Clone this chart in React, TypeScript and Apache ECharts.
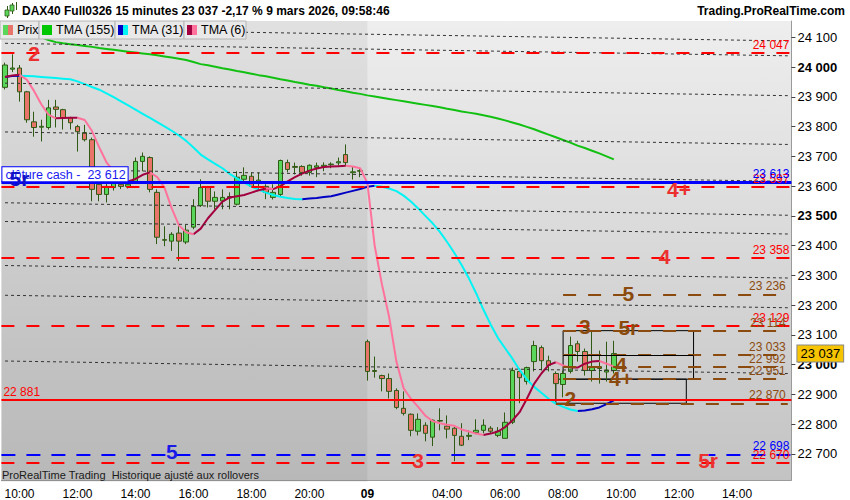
import { useEffect, useRef } from 'react'
import * as echarts from 'echarts'

const FONT = "'Liberation Sans', Arial, sans-serif"

// 15-minute slots: Friday session, then Monday session up to the right edge
function slots(day: string, from: string, to: string): string[] {
  const toMin = (t: string) => Number(t.slice(0, 2)) * 60 + Number(t.slice(3))
  const out: string[] = []
  for (let m = toMin(from); m <= toMin(to); m += 15) {
    out.push(`${day} ${String(Math.floor(m / 60)).padStart(2, '0')}:${String(m % 60).padStart(2, '0')}`)
  }
  return out
}
const DAY2_START = '09/03 01:15'
const categories = [...slots('06/03', '09:30', '21:45'), ...slots('09/03', '01:15', '15:45')]
const LAST_SLOT = categories.length - 1

// [open, high, low, close]
const day1Bars: number[][] = [
  [23932, 24015, 23925, 24007], [23993, 24043, 23983, 23997], [23997, 24007, 23884, 23917],
  [23917, 23920, 23813, 23823], [23816, 23850, 23766, 23797], [23798, 23823, 23750, 23801],
  [23797, 23890, 23790, 23863], [23866, 23890, 23797, 23858], [23857, 23860, 23790, 23830],
  [23830, 23833, 23790, 23813], [23800, 23806, 23716, 23783], [23780, 23806, 23750, 23756],
  [23756, 23763, 23549, 23589], [23606, 23612, 23549, 23572], [23572, 23630, 23545, 23599],
  [23595, 23660, 23585, 23612], [23606, 23620, 23590, 23599], [23599, 23615, 23592, 23606],
  [23612, 23696, 23608, 23683], [23683, 23713, 23650, 23700], [23696, 23700, 23579, 23589],
  [23579, 23589, 23405, 23428], [23418, 23465, 23398, 23420], [23415, 23445, 23382, 23438],
  [23442, 23465, 23348, 23415], [23412, 23470, 23405, 23452], [23462, 23556, 23455, 23532],
  [23535, 23623, 23530, 23595], [23595, 23599, 23528, 23549], [23549, 23582, 23522, 23562],
  [23550, 23589, 23522, 23562], [23560, 23579, 23522, 23565], [23539, 23650, 23535, 23630],
  [23623, 23663, 23612, 23636], [23633, 23646, 23596, 23599], [23612, 23646, 23589, 23620],
  [23599, 23606, 23556, 23579], [23562, 23606, 23555, 23579], [23572, 23689, 23566, 23686],
  [23679, 23689, 23646, 23656], [23666, 23679, 23639, 23663], [23666, 23670, 23635, 23646],
  [23646, 23673, 23635, 23670], [23663, 23679, 23630, 23668], [23666, 23680, 23650, 23670],
  [23672, 23680, 23660, 23674], [23678, 23696, 23670, 23682], [23706, 23740, 23666, 23679],
  [23645, 23666, 23622, 23648], [23650, 23660, 23630, 23652]
]
const day2Bars: number[][] = [
  [23077, 23084, 22946, 22977], [22980, 23027, 22956, 22977], [22963, 22966, 22910, 22953],
  [22953, 22970, 22886, 22910], [22913, 22920, 22850, 22856], [22853, 22910, 22829, 22836],
  [22833, 22836, 22759, 22779], [22776, 22836, 22762, 22816], [22796, 22806, 22742, 22769],
  [22756, 22816, 22726, 22813], [22810, 22853, 22779, 22812], [22793, 22829, 22752, 22783],
  [22786, 22790, 22675, 22762], [22759, 22803, 22726, 22729], [22759, 22779, 22746, 22762],
  [22772, 22816, 22766, 22779], [22779, 22816, 22769, 22796], [22786, 22793, 22769, 22776],
  [22762, 22790, 22756, 22776], [22752, 22839, 22752, 22806], [22806, 22990, 22800, 22980],
  [22977, 22987, 22870, 22956], [22943, 22993, 22933, 22990], [23010, 23080, 22977, 23064],
  [23057, 23064, 22980, 23013], [23013, 23030, 22977, 22997], [22970, 22977, 22886, 22936],
  [22933, 22980, 22890, 22970], [22977, 23094, 22970, 23064], [23070, 23080, 23010, 23044],
  [23044, 23054, 22963, 22980], [22980, 23110, 22943, 22990], [22993, 23047, 22936, 22987],
  [22975, 23077, 22943, 22982], [22980, 23080, 22970, 23037]
]

const tma155 = [
  24140, 24132, 24124, 24116, 24108, 24100, 24091, 24084, 24080, 24077,
  24074, 24071, 24068, 24064, 24061, 24058, 24055, 24052, 24049, 24046,
  24043, 24040, 24036, 24032, 24028, 24024, 24017, 24010, 24006, 24001,
  23996, 23992, 23987, 23983, 23978, 23973, 23969, 23964, 23959, 23955,
  23950, 23946, 23941, 23937, 23932, 23928, 23923, 23919, 23914, 23910,
  23905, 23901, 23897, 23893, 23889, 23885, 23881, 23877, 23873, 23869,
  23865, 23860, 23856, 23851, 23847, 23843, 23838, 23833, 23827, 23821,
  23814, 23807, 23799, 23791, 23782, 23773, 23764, 23755, 23746, 23736,
  23728, 23719, 23710, 23700, 23690
]
const tma31 = [
  23967, 23970, 23971, 23970, 23969, 23967, 23965, 23963, 23961, 23959,
  23952, 23943, 23933, 23924, 23912, 23899, 23885, 23871, 23857, 23843,
  23829, 23815, 23801, 23786, 23770, 23752, 23730, 23706, 23690, 23675,
  23660, 23641, 23626, 23612, 23598, 23588, 23578, 23570, 23564, 23560,
  23557, 23556, 23558, 23560, 23563, 23566, 23572, 23578, 23584, 23590,
  23598, 23601, 23598, 23592, 23583, 23568, 23548, 23525, 23500, 23475,
  23446, 23412, 23375, 23335, 23290, 23240, 23185, 23135, 23090, 23055,
  23020, 22982, 22950, 22925, 22905, 22885, 22869, 22858, 22849, 22844,
  22846, 22850, 22856, 22867, 22880
]
const tma6 = [
  23967, 23972, 23974, 23958, 23920, 23875, 23840, 23828, 23829, 23830,
  23830, 23822, 23785, 23730, 23680, 23649, 23628, 23616, 23624, 23638,
  23646, 23630, 23595, 23525, 23468, 23445, 23438, 23457, 23492, 23520,
  23548, 23562, 23566, 23570, 23578, 23586, 23592, 23590, 23600, 23616,
  23630, 23642, 23652, 23659, 23664, 23666, 23667, 23668, 23666, 23660,
  23610, 23400, 23270, 23160, 23010, 22920, 22885, 22858, 22828, 22810,
  22803, 22798, 22794, 22782, 22775, 22768, 22763, 22768, 22775, 22790,
  22812, 22840, 22885, 22935, 22970, 22998, 23008, 22997, 22990, 22990,
  23003, 23010, 23012, 23003, 22993
]

// levels drawn on the chart
const redLevels = [24047, 23597, 23358, 23129, 22670]
const brownLevels = [23236, 23114, 23033, 22992, 22951, 22870]
const brownStarts = [77, 77, 77, 77, 77, 76]
const cashClose = 23613
const cashCloseText = 'clôture cash -  23 612'
const blueLevel = 22698
const supportLevel = 22881
const lastPrice = 23037
// sloped dotted lines: price at first slot / last slot
const trendLeft = [24130, 24080, 23946, 23782, 23658, 23544, 23481, 23333, 23233, 23012]
const trendRight = [24088, 24038, 23904, 23740, 23616, 23502, 23439, 23291, 23191, 22970]
const boxes = [
  { from: 77, to: 95, top: 23114, bottom: 22951 },
  { from: 76, to: 94, top: 22951, bottom: 22870 }
]
const boxDivider = { from: 77, to: 95, price: 23033 }

const RED = '#ff0000'
const RED_TXT = '#ec2f2f'
const BROWN = '#8b4a0e'
const BLUE = '#0000ff'
const NAVY = '#1010c8'

const tags = [
  { text: '2', slot: 4, price: 24047, color: RED_TXT },
  { text: '4+', slot: 93.1, price: 23590, color: RED_TXT },
  { text: '4', slot: 91.2, price: 23363, color: RED_TXT },
  { text: '5', slot: 86.2, price: 23240, color: BROWN },
  { text: '3', slot: 80.1, price: 23129, color: BROWN },
  { text: '5r', slot: 86.2, price: 23126, color: BROWN },
  { text: '4', slot: 85.1, price: 23000, color: BROWN },
  { text: '4+', slot: 85, price: 22953, color: BROWN },
  { text: '2', slot: 78, price: 22887, color: BROWN },
  { text: '5', slot: 23, price: 22709, color: '#1a1ae6' },
  { text: '3', slot: 57, price: 22676, color: RED_TXT },
  { text: '5r', slot: 97.4, price: 22676, color: RED_TXT }
]
// tag drawn over the cash-close box
const cashTag = { text: '5r', slot: 1.9, price: 23627, color: NAVY }

const fmt = (v: number) => `${Math.floor(v / 1000)} ${String(Math.round(v) % 1000).padStart(3, '0')}`

function splitBySlope(vals: number[]) {
  const up: (number | string)[] = vals.map(() => '-')
  const down: (number | string)[] = vals.map(() => '-')
  for (let i = 0; i < vals.length - 1; i++) {
    const target = vals[i + 1] >= vals[i] ? up : down
    target[i] = vals[i]
    target[i + 1] = vals[i + 1]
  }
  return { up, down }
}

const GRID = { left: 1.4, top: 21, width: 790, height: 461 }

function rightLabel(text: string, color: string) {
  return { show: true, position: 'insideEndTop', formatter: text, color, fontSize: 12, fontFamily: FONT, distance: 2 }
}

// full-width horizontal level
function hLevel(price: number, color: string, type: any, width: number, label: any) {
  return { yAxis: price, lineStyle: { color, type, width }, label }
}

// level starting at a given slot and running to the last slot
function partLevel(price: number, from: number, color: string, type: any, width: number, label: any) {
  return [
    { coord: [from, price], lineStyle: { color, type, width }, label },
    { coord: [LAST_SLOT, price] }
  ]
}

export default function App() {
  const chartRef = useRef<HTMLDivElement>(null)

  useEffect(() => {
    document.body.style.margin = '0'
    const host = chartRef.current
    if (!host) return
    const chart = echarts.init(host, null, { renderer: 'svg' })

    const bars = [...day1Bars, ...day2Bars].map(([o, h, l, c]) => [o, c, l, h])
    const t31 = splitBySlope(tma31)
    const t6 = splitBySlope(tma6)

    const isMajor = (c: string) => {
      const t = c.slice(6)
      return t.endsWith(':00') && Number(t.slice(0, 2)) % 2 === 0
    }

    const trendLines: any[] = trendLeft.map((p, i) => [
      { coord: [0, p], lineStyle: { color: '#333333', type: [3, 3], width: 1 }, label: { show: false } },
      { coord: [LAST_SLOT, trendRight[i]] }
    ])

    const levelLines: any[] = [
      ...redLevels.map((p) => hLevel(p, RED, [13, 12], 2, rightLabel(fmt(p), RED))),
      ...brownLevels.map((p, i) => partLevel(p, brownStarts[i], BROWN, [13, 12], 2, rightLabel(fmt(p), BROWN))),
      hLevel(blueLevel, BLUE, [14, 11], 2, rightLabel(fmt(blueLevel), BLUE)),
      hLevel(cashClose, BLUE, 'solid', 3, rightLabel(fmt(cashClose), BLUE)),
      hLevel(supportLevel, RED, 'solid', 2, {
        show: true, position: 'insideStartTop', formatter: fmt(supportLevel), color: RED, fontSize: 12, fontFamily: FONT, distance: 2
      }),
      [
        { coord: [boxDivider.from, boxDivider.price], lineStyle: { color: '#000', type: 'solid', width: 1 }, label: { show: false } },
        { coord: [boxDivider.to, boxDivider.price] }
      ]
    ]

    // labels with boxes: cash close tag on the left, last price on the axis
    const tagLines: any[] = [
      {
        yAxis: cashClose,
        lineStyle: { color: 'rgba(0,0,0,0)', width: 1 },
        label: {
          show: true, position: 'insideStartTop', formatter: cashCloseText, color: '#1a1af0',
          fontSize: 12.5, fontFamily: FONT, backgroundColor: '#ffffff', borderColor: BLUE, borderWidth: 1,
          padding: [1, 2, 0, 3], lineHeight: 13, distance: 1
        }
      },
      {
        yAxis: lastPrice,
        lineStyle: { color: 'rgba(0,0,0,0)', width: 1 },
        label: {
          show: true, position: 'end', formatter: fmt(lastPrice), color: '#000', fontSize: 13, fontFamily: FONT,
          backgroundColor: '#f6c400', borderColor: '#8a8a8a', borderWidth: 1, padding: [2, 3, 1, 3], distance: 6
        }
      }
    ]

    const option: any = {
      animation: false,
      backgroundColor: '#ffffff',
      textStyle: { fontFamily: FONT },
      grid: {
        ...GRID,
        show: true,
        borderWidth: 0,
        backgroundColor: new echarts.graphic.LinearGradient(0, 0, 0, 1, [
          { offset: 0, color: '#eeeeee' },
          { offset: 1, color: '#c3c3c3' }
        ])
      },
      xAxis: {
        type: 'category',
        data: categories,
        boundaryGap: true,
        axisLine: { show: true, lineStyle: { color: '#9a9a9a' } },
        axisTick: {
          alignWithLabel: true,
          length: 4,
          lineStyle: { color: '#666' },
          interval: (_i: number, v: string) => isMajor(v) || v === DAY2_START
        },
        axisLabel: {
          color: '#000',
          fontSize: 12,
          fontFamily: FONT,
          margin: 8,
          interval: (_i: number, v: string) => (isMajor(v) && v !== '09/03 02:00') || v === DAY2_START,
          formatter: (v: string) => (v === DAY2_START ? '{b|09}' : v.slice(6)),
          rich: { b: { fontWeight: 'bold', fontSize: 12, fontFamily: FONT, color: '#000' } }
        },
        splitLine: { show: false }
      },
      yAxis: {
        type: 'value',
        position: 'right',
        min: 22612,
        max: 24155,
        splitNumber: 15,
        minInterval: 100,
        maxInterval: 100,
        axisLine: { show: true, lineStyle: { color: '#9a9a9a' } },
        axisTick: { show: true, length: 4, lineStyle: { color: '#444' } },
        splitLine: { show: false },
        axisLabel: {
          color: '#000',
          fontSize: 13,
          fontFamily: FONT,
          margin: 6,
          showMinLabel: false,
          showMaxLabel: false,
          formatter: (v: number) => {
            if (v % 100 !== 0) return ''
            return v % 500 === 0 ? `{b|${fmt(v)}}` : fmt(v)
          },
          rich: { b: { fontWeight: 'bold', fontSize: 13, fontFamily: FONT, color: '#000' } }
        }
      },
      series: [
        {
          name: 'levels', type: 'line', data: [], z: 1, silent: true,
          markLine: { silent: true, symbol: 'none', animation: false, data: trendLines }
        },
        {
          name: 'Prix',
          type: 'candlestick',
          data: bars,
          barWidth: 5,
          z: 2,
          itemStyle: {
            color: '#5ad65a',
            color0: '#e8746a',
            borderColor: '#2f5a14',
            borderColor0: '#2f5a14',
            borderWidth: 1
          },
          markLine: { silent: true, symbol: 'none', animation: false, data: levelLines },
          markArea: {
            silent: true,
            itemStyle: { color: 'rgba(0,0,0,0)', borderColor: '#000', borderWidth: 1 },
            data: boxes.map((b) => [{ coord: [b.from, b.top] }, { coord: [b.to, b.bottom] }])
          }
        },
        {
          name: 'TMA (155)', type: 'line', data: tma155, showSymbol: false, z: 4,
          lineStyle: { color: '#12c012', width: 2 }
        },
        {
          name: 'TMA (31) up', type: 'line', data: t31.up, showSymbol: false, z: 4,
          lineStyle: { color: '#0000c4', width: 2 }
        },
        {
          name: 'TMA (31) down', type: 'line', data: t31.down, showSymbol: false, z: 4,
          lineStyle: { color: '#00f4f4', width: 2 }
        },
        {
          name: 'TMA (6) up', type: 'line', data: t6.up, showSymbol: false, z: 4,
          lineStyle: { color: '#a2003e', width: 2 }
        },
        {
          name: 'TMA (6) down', type: 'line', data: t6.down, showSymbol: false, z: 4,
          lineStyle: { color: '#ff729c', width: 2 }
        },
        {
          name: 'tags', type: 'scatter', z: 10, symbolSize: 1, silent: true,
          itemStyle: { color: 'rgba(0,0,0,0)', opacity: 1 },
          data: tags.map((t) => ({
            value: [t.slot, t.price],
            label: {
              show: true, position: 'inside', formatter: t.text, color: t.color, opacity: 1,
              fontSize: 21, fontWeight: 'bold', fontFamily: FONT
            }
          }))
        },
        {
          name: 'boxed labels', type: 'line', data: [], z: 8, silent: true,
          markLine: { silent: true, symbol: 'none', animation: false, data: tagLines }
        }
      ]
    }

    chart.setOption(option)

    const shadeEnd = chart.convertToPixel({ xAxisIndex: 0 }, DAY2_START) as number
    const cashTagPos = chart.convertToPixel({ gridIndex: 0 }, [cashTag.slot, cashTag.price]) as number[]

    const legendItems = [
      { x: 0, w: 39, text: 'Prix', c1: '#5ad65a', c2: '#e8746a' },
      { x: 39, w: 76, text: 'TMA (155)', c1: '#00c800', c2: '#00c800' },
      { x: 115, w: 69, text: 'TMA (31)', c1: '#0000c4', c2: '#00f4f4' },
      { x: 184, w: 62, text: 'TMA (6)', c1: '#a2003e', c2: '#ff729c' }
    ]
    const legendEls: any[] = []
    legendItems.forEach((it) => {
      legendEls.push({
        type: 'rect', shape: { x: it.x, y: 21, width: it.w, height: 18 }, z: 100,
        style: { fill: '#e9e9e9', stroke: '#b4b4b4', lineWidth: 1 }
      })
      legendEls.push({ type: 'rect', shape: { x: it.x + 3, y: 25, width: 5, height: 10 }, z: 101, style: { fill: it.c1 } })
      legendEls.push({ type: 'rect', shape: { x: it.x + 8, y: 25, width: 5, height: 10 }, z: 101, style: { fill: it.c2 } })
      legendEls.push({
        type: 'text', x: it.x + 17, y: 30, z: 101,
        style: { text: it.text, fill: '#000', font: `12.5px ${FONT}`, verticalAlign: 'middle' }
      })
    })

    const icon: any[] = [
      { type: 'rect', shape: { x: 7, y: 6, width: 1, height: 12 }, style: { fill: '#2f5a14' } },
      { type: 'rect', shape: { x: 5, y: 10, width: 4, height: 6 }, style: { fill: '#5ad65a', stroke: '#2f5a14', lineWidth: 0.8 } },
      { type: 'rect', shape: { x: 12, y: 3, width: 1, height: 11 }, style: { fill: '#2f5a14' } },
      { type: 'rect', shape: { x: 10, y: 5, width: 4, height: 6 }, style: { fill: '#5ad65a', stroke: '#2f5a14', lineWidth: 0.8 } },
      { type: 'rect', shape: { x: 16, y: 2, width: 1, height: 8 }, style: { fill: '#2f5a14' } }
    ]

    chart.setOption({
      graphic: [
        {
          type: 'rect', z: 1, silent: true,
          shape: { x: GRID.left, y: GRID.top, width: shadeEnd - GRID.left, height: GRID.height },
          style: { fill: 'rgba(0,0,0,0.055)' }
        },
        {
          type: 'text', x: cashTagPos[0], y: cashTagPos[1], z: 200, silent: true,
          style: {
            text: cashTag.text, fill: cashTag.color, font: `bold 21px ${FONT}`,
            align: 'center', verticalAlign: 'middle'
          }
        },
        ...icon.map((e) => ({ ...e, z: 100 })),
        {
          type: 'text', x: 22, y: 11, z: 100,
          style: { text: 'DAX40 Full0326 15 minutes 23 037 -2,17 % 9 mars 2026, 09:58:46', fill: '#000', font: `bold 12px ${FONT}`, verticalAlign: 'middle' }
        },
        {
          type: 'text', x: 845, y: 11, z: 100,
          style: { text: 'Trading.ProRealTime.com', fill: '#000', font: `bold 12px ${FONT}`, align: 'right', verticalAlign: 'middle' }
        },
        ...legendEls,
        {
          type: 'text', x: 2, y: 475, z: 100,
          style: { text: 'ProRealTime Trading  Historique ajusté aux rollovers', fill: '#1a1a1a', font: `11px ${FONT}`, verticalAlign: 'middle' }
        }
      ]
    })

    return () => {
      chart.dispose()
    }
  }, [])

  return <div ref={chartRef} style={{ width: 850, height: 500, background: '#ffffff' }} />
}
